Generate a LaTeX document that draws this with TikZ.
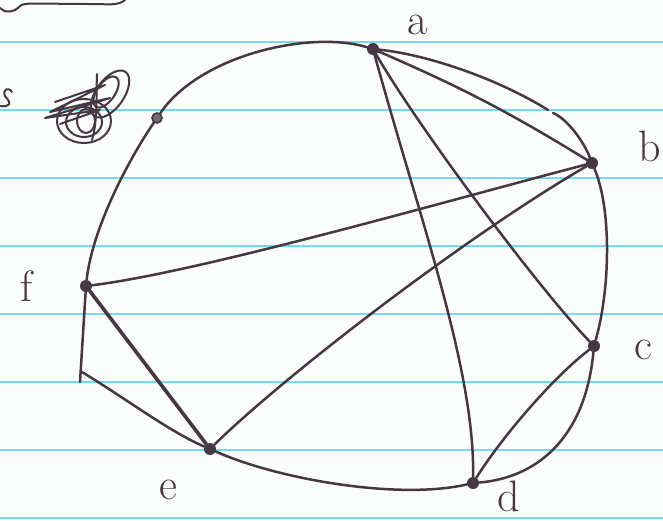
\documentclass[tikz,border=0pt]{standalone}
\definecolor{ink}{RGB}{70,56,66}
\definecolor{rulecol}{RGB}{112,222,232}
\definecolor{paper}{RGB}{251,252,252}
\begin{document}
\begin{tikzpicture}[x=1pt,y=-1pt,
  vertex/.style={circle, fill=ink, inner sep=0pt, minimum size=12pt},
  smalldot/.style={circle, draw=ink, fill=ink!75, line width=1.6pt, inner sep=0pt, minimum size=10pt},
  edge/.style={draw=ink, line width=2.5pt, line cap=round, line join=round},
  thickedge/.style={draw=ink, line width=3.6pt, line cap=round},
  lbl/.style={text=ink, font=\fontsize{44}{44}\selectfont, inner sep=0pt},
  ruling/.style={draw=rulecol, line width=2.2pt},
  scrib/.style={draw=ink, line width=2pt, line cap=round, line join=round}]
\useasboundingbox (0,0) rectangle (663,520);
\fill[paper] (0,0) rectangle (663,520);
% ruled lines
\foreach \yy in {42,110,178,246,314,382,450,518}
  \draw[ruling] (0,\yy) -- (663,\yy);
% leftover strokes of earlier writing
\draw[scrib] (0,8) .. controls (4,13) and (14,13) .. (20,6) .. controls (24,2) and (40,4) .. (90,4) .. controls (108,4) and (118,6) .. (125,0);
\draw[scrib] (12,92) .. controls (8,86) and (2,90) .. (5,96) .. controls (9,101) and (12,104) .. (6,106) -- (0,106);
% scribble
\draw[scrib] (110,94) ellipse [x radius=14, y radius=27, rotate=-35];
\draw[scrib] (106,92) ellipse [x radius=9, y radius=18, rotate=-35];
\draw[scrib] (84,121) ellipse [x radius=27, y radius=22];
\draw[scrib] (84,122) ellipse [x radius=18, y radius=15];
\draw[scrib] (86,121) ellipse [x radius=9, y radius=12];
\draw[scrib] (55,102) -- (105,85) -- (50,112) -- (110,98) -- (45,118) -- (100,110) -- (60,124);
\draw[scrib] (97,74) .. controls (96,95) and (98,120) .. (92,140);
% vertices
\node[vertex] (a) at (373,49) {};
\node[vertex] (b) at (592,163) {};
\node[vertex] (c) at (594,346) {};
\node[vertex] (d) at (473,483) {};
\node[vertex] (e) at (210,449) {};
\node[vertex] (f) at (86,286) {};
\node[smalldot] (g) at (157,118) {};
\coordinate (k1) at (80,382);
\coordinate (k2) at (82,372);
\coordinate (gapL) at (548,110);
\coordinate (gapR) at (553,113);
% labels
\node[lbl] (la) at (418,25) {a};
\node[lbl] (lb) at (650,146) {b};
\node[lbl] (lc) at (643,350) {c};
\node[lbl] (ld) at (509,496) {d};
\node[lbl] (le) at (168,490) {e};
\node[lbl] (lf) at (27,286) {f};
% outer cycle
\draw[edge] (a) .. controls (310,30) and (200,55) .. (g) .. controls (127,162) and (92,230) .. (f);
\draw[edge] (f) -- (k1);
\draw[edge] (k2) .. controls (125,398) and (170,432) .. (e);
\draw[edge] (e) .. controls (280,480) and (400,500) .. (d);
\draw[edge] (d) .. controls (535,478) and (585,440) .. (c);
\draw[edge] (c) .. controls (610,290) and (612,210) .. (b);
\draw[edge] (b) .. controls (583,140) and (566,118) .. (gapR);
\draw[edge] (gapL) .. controls (500,80) and (430,55) .. (a);
% chords
\draw[edge] (a) to[bend left=4] (b);
\draw[edge] (a) .. controls (420,220) and (475,370) .. (d);
\draw[edge] (a) .. controls (420,130) and (540,290) .. (c);
\draw[edge] (f) .. controls (200,272) and (450,200) .. (b);
\draw[edge] (e) .. controls (280,380) and (460,240) .. (b);
\draw[edge] (c) .. controls (550,380) and (500,440) .. (d);
\draw[thickedge] (f) -- (e);
\end{tikzpicture}
\end{document}
